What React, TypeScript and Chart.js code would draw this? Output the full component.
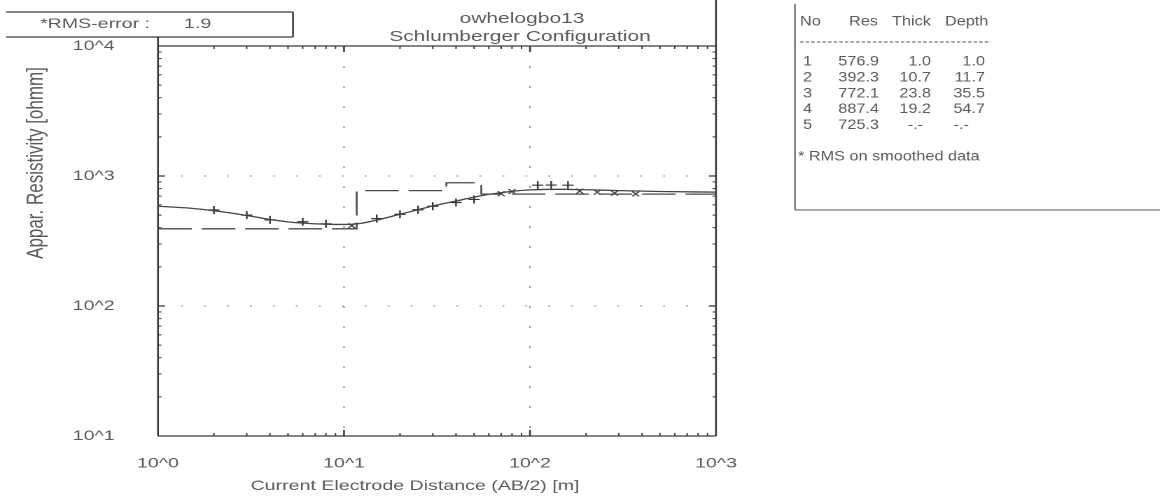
import React, { useEffect, useRef } from 'react';
import { Chart, registerables } from 'chart.js';

Chart.register(...registerables);

// ---------- data ----------
const X_TICKS = [1, 10, 100, 1000];
const X_TICK_LABELS = ['10^0', '10^1', '10^2', '10^3'];
const Y_TICKS = [10, 100, 1000, 10000];
const Y_TICK_LABELS = ['10^1', '10^2', '10^3', '10^4'];

const LAYER_NO = [1, 2, 3, 4, 5];
const LAYER_RES = [576.9, 392.3, 772.1, 887.4, 725.3];
const LAYER_THICK: (number | null)[] = [1.0, 10.7, 23.8, 19.2, null];
const LAYER_DEPTH: (number | null)[] = [1.0, 11.7, 35.5, 54.7, null];

const CALC_AB = [1, 1.5, 2, 3, 4, 5, 6, 8, 10, 12, 15, 20, 25, 30, 40, 50, 60, 80, 100, 150, 200, 300, 500, 1000];
const CALC_RHO = [585, 565, 540, 497, 463, 444, 434, 426, 424, 430, 458, 508, 550, 588, 642, 688, 722, 762, 782, 790, 784, 772, 760, 752];

const OBS_PLUS_AB = [2, 3, 4, 6, 8, 15, 20, 25, 30, 40, 50, 110, 130, 160];
const OBS_PLUS_RHO = [548, 500, 460, 445, 428, 470, 508, 550, 585, 625, 660, 850, 852, 850];
const OBS_X_AB = [11, 70, 80, 185, 230, 285, 370];
const OBS_X_RHO = [415, 730, 760, 765, 750, 738, 728];

const TITLE = 'owhelogbo13';
const SUBTITLE = 'Schlumberger Configuration';
const RMS_LABEL = '*RMS-error :';
const RMS_VALUE = '1.9';
const X_TITLE = 'Current Electrode Distance (AB/2) [m]';
const Y_TITLE = 'Appar. Resistivity [ohmm]';
const TABLE_HEAD = ['No', 'Res', 'Thick', 'Depth'];
const TABLE_FOOT = '* RMS on smoothed data';

// ---------- layout (screen px, stretched horizontally like the scan) ----------
const CW = 1162;
const CH = 497;
const SX = 1.4;
const LW = Math.round(CW / SX);
const S = (v: number) => v / SX;
const PLOT_BOTTOM = 436;

const FONT = '"Liberation Sans", Arial, sans-serif';
const TEXT_COLOR = '#5a5a5a';
const LINE_COLOR = '#3a3a3a';

const fmt = (v: number | null) => (v == null ? '-.-' : v.toFixed(1));

const decorPlugin = {
  id: 'decor',
  beforeDatasetsDraw(chart: any) {
    const { ctx, chartArea: a, scales } = chart;
    const xs = scales.x;
    const ys = scales.y;
    ctx.save();
    ctx.strokeStyle = '#8a8a8a';
    ctx.lineWidth = 1;
    ctx.setLineDash([1.4, 15]);
    Y_TICKS.forEach((v) => {
      if (v > ys.min && v < ys.max) {
        const y = ys.getPixelForValue(v);
        ctx.beginPath();
        ctx.moveTo(a.left, y);
        ctx.lineTo(a.right, y);
        ctx.stroke();
      }
    });
    ctx.setLineDash([2, 18]);
    X_TICKS.forEach((v) => {
      if (v > xs.min && v < xs.max) {
        const x = xs.getPixelForValue(v);
        ctx.beginPath();
        ctx.moveTo(x, a.top);
        ctx.lineTo(x, a.bottom);
        ctx.stroke();
      }
    });
    ctx.restore();
  },
  afterDraw(chart: any) {
    const { ctx, chartArea: a, scales } = chart;
    const xs = scales.x;
    const ys = scales.y;
    ctx.save();
    ctx.setLineDash([]);
    ctx.strokeStyle = LINE_COLOR;
    ctx.lineWidth = 1.3;
    const line = (x1: number, y1: number, x2: number, y2: number) => {
      ctx.beginPath();
      ctx.moveTo(x1, y1);
      ctx.lineTo(x2, y2);
      ctx.stroke();
    };
    const txt = (s: string, x: number, y: number, align: CanvasTextAlign = 'left', squeeze = 1) => {
      ctx.save();
      ctx.translate(S(x), y);
      ctx.scale(squeeze, 1);
      ctx.textAlign = align;
      ctx.fillText(s, 0, 0);
      ctx.restore();
    };
    // frame
    line(a.left, a.top, a.right, a.top);
    line(a.left, a.bottom, a.right, a.bottom);
    line(a.left, 37, a.left, a.bottom);
    line(a.right, 0, a.right, a.bottom);
    // RMS box
    line(S(6), 12, S(293), 12);
    line(S(6), 37, S(293), 37);
    line(S(293), 12, S(293), 37);

    // ticks
    ctx.lineWidth = 1;
    const minor = (lo: number, hi: number) => {
      const out: number[] = [];
      for (let d = lo; d < hi; d *= 10) for (let m = 2; m <= 9; m++) out.push(d * m);
      return out;
    };
    minor(ys.min, ys.max).forEach((v) => {
      const y = ys.getPixelForValue(v);
      line(a.left, y, a.left + 2.5, y);
      line(a.right, y, a.right - 2.5, y);
    });
    minor(xs.min, xs.max).forEach((v) => {
      const x = xs.getPixelForValue(v);
      line(x, a.bottom, x, a.bottom - 3);
      line(x, a.top, x, a.top + 3);
    });
    ctx.lineWidth = 1.3;
    Y_TICKS.forEach((v) => {
      if (v > ys.min && v < ys.max) {
        const y = ys.getPixelForValue(v);
        line(a.left, y, a.left + 5, y);
        line(a.right, y, a.right - 5, y);
      }
    });
    X_TICKS.forEach((v) => {
      if (v > xs.min && v < xs.max) {
        const x = xs.getPixelForValue(v);
        line(x, a.bottom, x, a.bottom - 6);
        line(x, a.top, x, a.top + 6);
      }
    });

    // texts
    ctx.fillStyle = TEXT_COLOR;
    ctx.textBaseline = 'middle';
    ctx.font = `15px ${FONT}`;
    txt(TITLE, 522, 19, 'center');
    txt(SUBTITLE, 520, 37, 'center');
    ctx.font = `14px ${FONT}`;
    txt(RMS_LABEL, 40, 24);
    txt(RMS_VALUE, 184, 24);
    txt(X_TITLE, 415, 486, 'center');
    ctx.save();
    ctx.font = `17px ${FONT}`;
    ctx.translate(S(36), 163);
    ctx.rotate(-Math.PI / 2);
    ctx.textAlign = 'center';
    ctx.fillText(Y_TITLE, 0, 0);
    ctx.restore();

    // table
    const tb = 795;
    const q = 0.86;
    ctx.strokeStyle = '#555';
    ctx.lineWidth = 1;
    line(S(tb), 4, S(tb), 210);
    line(S(tb), 210, S(1160), 210);
    ctx.setLineDash([2.5, 1.5]);
    line(S(tb + 5), 42, S(tb + 196), 42);
    ctx.setLineDash([]);
    ctx.font = `13.5px ${FONT}`;
    const headX = [tb + 5, tb + 54, tb + 97, tb + 150];
    TABLE_HEAD.forEach((h, i) => txt(h, headX[i], 22, 'left', q));
    LAYER_NO.forEach((n, i) => {
      const y = 62 + i * 15.8;
      txt(String(n), tb + 8, y, 'left', q);
      txt(fmt(LAYER_RES[i]), tb + 84, y, 'right', q);
      txt(fmt(LAYER_THICK[i]), tb + (LAYER_THICK[i] == null ? 128 : 136), y, 'right', q);
      txt(fmt(LAYER_DEPTH[i]), tb + (LAYER_DEPTH[i] == null ? 174 : 190), y, 'right', q);
    });
    txt(TABLE_FOOT, tb + 3, 157, 'left', q);
    ctx.restore();
  },
};

export default function App() {
  const ref = useRef<HTMLCanvasElement | null>(null);

  useEffect(() => {
    if (!ref.current) return;

    const modelPts: { x: number; y: number }[] = [{ x: 0.5, y: LAYER_RES[0] }];
    LAYER_DEPTH.forEach((d, i) => {
      if (d != null) modelPts.push({ x: d, y: LAYER_RES[i + 1] });
    });
    modelPts.push({ x: 1000, y: LAYER_RES[LAYER_RES.length - 1] });

    const chart = new Chart(ref.current, {
      type: 'line',
      data: {
        datasets: [
          {
            label: 'model',
            data: modelPts,
            stepped: 'before',
            borderColor: '#4a4a4a',
            borderWidth: 1.3,
            borderDash: [24, 7],
            pointRadius: 0,
            fill: false,
          } as any,
          {
            label: 'calculated',
            data: CALC_AB.map((x, i) => ({ x, y: CALC_RHO[i] })),
            borderColor: '#444',
            borderWidth: 1.3,
            pointRadius: 0,
            cubicInterpolationMode: 'monotone',
            fill: false,
          },
          {
            label: 'observed +',
            data: OBS_PLUS_AB.map((x, i) => ({ x, y: OBS_PLUS_RHO[i] })),
            showLine: false,
            pointStyle: 'cross',
            pointRadius: 4,
            pointBorderWidth: 1.2,
            pointBorderColor: '#333',
            borderColor: '#333',
          },
          {
            label: 'observed x',
            data: OBS_X_AB.map((x, i) => ({ x, y: OBS_X_RHO[i] })),
            showLine: false,
            pointStyle: 'crossRot',
            pointRadius: 3.5,
            pointBorderWidth: 1.1,
            pointBorderColor: '#444',
            borderColor: '#444',
          },
        ],
      },
      options: {
        responsive: false,
        devicePixelRatio: 2,
        animation: false,
        events: [],
        layout: { padding: { left: 0, right: LW - S(716), top: 46, bottom: 0 } },
        plugins: {
          legend: { display: false },
          tooltip: { enabled: false },
          title: { display: false },
        },
        scales: {
          x: {
            type: 'logarithmic',
            min: 1,
            max: 1000,
            afterBuildTicks: (s: any) => {
              s.ticks = X_TICKS.map((v) => ({ value: v }));
            },
            afterFit: (s: any) => {
              s.height = CH - PLOT_BOTTOM;
            },
            grid: { display: false, drawTicks: false },
            border: { display: false },
            ticks: {
              autoSkip: false,
              maxRotation: 0,
              padding: 19,
              color: TEXT_COLOR,
              font: { family: FONT, size: 14 },
              callback: (v: any) => {
                const i = X_TICKS.indexOf(Number(v));
                return i >= 0 ? X_TICK_LABELS[i] : '';
              },
            },
          },
          y: {
            type: 'logarithmic',
            position: 'left',
            min: 10,
            max: 10000,
            afterBuildTicks: (s: any) => {
              s.ticks = Y_TICKS.map((v) => ({ value: v }));
            },
            afterFit: (s: any) => {
              s.width = S(158);
            },
            grid: { display: false, drawTicks: false },
            border: { display: false },
            ticks: {
              autoSkip: false,
              padding: 31,
              color: TEXT_COLOR,
              font: { family: FONT, size: 14 },
              callback: (v: any) => {
                const i = Y_TICKS.indexOf(Number(v));
                return i >= 0 ? Y_TICK_LABELS[i] : '';
              },
            },
          },
        },
      } as any,
      plugins: [decorPlugin],
    });

    return () => chart.destroy();
  }, []);

  return (
    <div style={{ position: 'fixed', left: 0, top: 0, width: CW, height: CH, background: '#fff' }}>
      <canvas ref={ref} width={LW} height={CH} style={{ width: CW, height: CH, display: 'block' }} />
    </div>
  );
}
